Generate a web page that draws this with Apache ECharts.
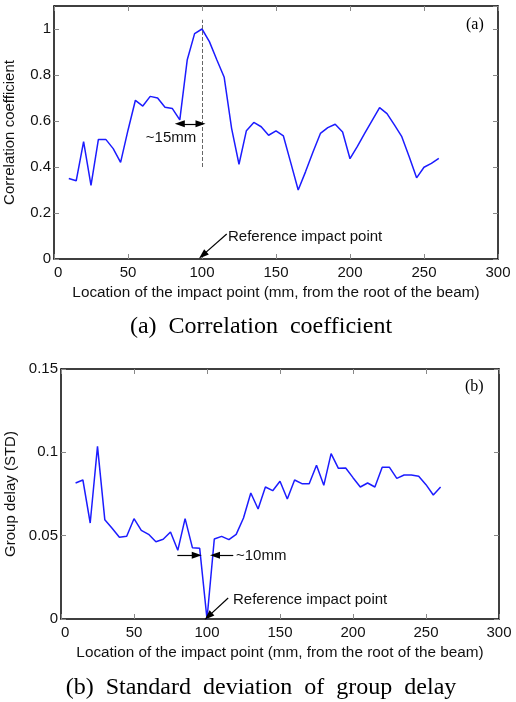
<!DOCTYPE html>
<html>
<head>
<meta charset="utf-8">
<script src="https://cdn.jsdelivr.net/npm/echarts@6/dist/echarts.min.js"></script>
<style>
  html, body { margin: 0; padding: 0; background: #fff; }
  #EchartMain { width: 516px; height: 702px; }
</style>
</head>
<body>
<div id="EchartMain"></div>
<script>
// impact locations, mm (every 5 mm)
const locations = [10, 15, 20, 25, 30, 35, 40, 45, 50, 55, 60, 65, 70, 75, 80, 85, 90, 95, 100,
  105, 110, 115, 120, 125, 130, 135, 140, 145, 150, 155, 160, 165, 170, 175, 180, 185, 190, 195, 200,
  205, 210, 215, 220, 225, 230, 235, 240, 245, 250, 255, 260];
// (a) correlation coefficient
const corrValues = [0.35, 0.34, 0.51, 0.32, 0.52, 0.52, 0.48, 0.42, 0.56, 0.69, 0.665, 0.707, 0.70, 0.66, 0.654, 0.605, 0.865, 0.98, 1.0,
  0.945, 0.866, 0.79, 0.568, 0.412, 0.558, 0.594, 0.575, 0.538, 0.557, 0.535, 0.418, 0.30, 0.38, 0.465, 0.546, 0.571, 0.586, 0.552, 0.436,
  0.49, 0.547, 0.603, 0.658, 0.632, 0.583, 0.532, 0.445, 0.353, 0.399, 0.416, 0.438];
// (b) group delay std
const delayValues = [0.0816, 0.0834, 0.0576, 0.1036, 0.0596, 0.0545, 0.049, 0.0496, 0.0602, 0.0532, 0.0508, 0.0464, 0.0478, 0.0522, 0.0412, 0.0602, 0.0428, 0.0424, 0,
  0.048, 0.0496, 0.0476, 0.0508, 0.0606, 0.0756, 0.066, 0.0792, 0.077, 0.0826, 0.072, 0.0834, 0.0812, 0.0812, 0.0922, 0.0802, 0.0992, 0.0904, 0.0906, 0.0848,
  0.0792, 0.0816, 0.0792, 0.091, 0.091, 0.0844, 0.0864, 0.0864, 0.0856, 0.0806, 0.0744, 0.0792];
const xTicks = [0, 300, 50];
const corrTicks = [0, 1.1, 0.2];
const delayTicks = [0, 0.15, 0.05];

const sans = "Liberation Sans";
const serif = "Liberation Serif";
const xName = "Location of the impact point (mm, from the root of the beam)";

function frameAxis(extra) {
  return Object.assign({
    type: "value",
    axisLine: { show: true, onZero: false, lineStyle: { color: "#000", width: 1.5 } },
    axisTick: { show: true, inside: true, length: 5, lineStyle: { color: "#888" } },
    axisLabel: { show: false },
    splitLine: { show: false },
  }, extra);
}

function bottomAxis(grid) {
  return frameAxis({
    gridIndex: grid, position: "bottom", min: xTicks[0], max: xTicks[1], interval: xTicks[2],
    axisLabel: {
      show: true, margin: 6, fontFamily: sans, fontSize: 15, color: "#111",
      showMinLabel: true, hideOverlap: false, alignMinLabel: "left",
    },
    name: xName, nameLocation: "middle", nameGap: 26,
    nameTextStyle: { fontFamily: sans, fontSize: 15.3, color: "#111" },
  });
}
function topAxis(grid) {
  return frameAxis({ gridIndex: grid, position: "top", min: xTicks[0], max: xTicks[1], interval: xTicks[2] });
}
function leftAxis(grid, ticks, name, gap) {
  return frameAxis({
    gridIndex: grid, position: "left", min: ticks[0], max: ticks[1], interval: ticks[2],
    axisLabel: {
      show: true, margin: 3, fontFamily: sans, fontSize: 15, color: "#111",
      showMinLabel: true, hideOverlap: false, showMaxLabel: grid === 1,
    },
    name: name, nameLocation: "middle", nameGap: gap,
    nameTextStyle: { fontFamily: sans, fontSize: 15, color: "#111" },
  });
}
function rightAxis(grid, ticks) {
  return frameAxis({ gridIndex: grid, position: "right", min: ticks[0], max: ticks[1], interval: ticks[2] });
}

function pairs(ys) {
  return locations.map((x, i) => [x, ys[i]]);
}

const arrow = { symbol: "triangle", symbolSize: [7, 10] };

const option = {
  animation: false,
  grid: [
    { left: 54, top: 6, width: 444, height: 253, outerBoundsMode: "none" },
    { left: 61, top: 369, width: 438, height: 250, outerBoundsMode: "none" },
  ],
  xAxis: [bottomAxis(0), topAxis(0), bottomAxis(1), topAxis(1)],
  yAxis: [
    leftAxis(0, corrTicks, "Correlation coefficient", 37),
    rightAxis(0, corrTicks),
    leftAxis(1, delayTicks, "Group delay (STD)", 42),
    rightAxis(1, delayTicks),
  ],
  series: [
    {
      type: "line",
      xAxisIndex: 0,
      yAxisIndex: 0,
      data: pairs(corrValues),
      showSymbol: false,
      lineStyle: { color: "#1c1cff", width: 1.5 },
      markLine: {
        silent: true,
        symbol: "none",
        label: { show: false },
        lineStyle: { color: "#000", type: "solid", width: 1.2 },
        data: [
          [{ coord: [100, 0.4], lineStyle: { color: "#666", type: "dashed", width: 1 } }, { coord: [100, 1.04] }],
          [Object.assign({ coord: [85, 0.588] }, arrow), Object.assign({ coord: [99, 0.588] }, arrow)],
          [{ coord: [116.7, 0.109] }, Object.assign({ coord: [100.5, 0.017] }, arrow)],
        ],
      },
    },
    {
      type: "line",
      xAxisIndex: 2,
      yAxisIndex: 2,
      data: pairs(delayValues),
      showSymbol: false,
      lineStyle: { color: "#1c1cff", width: 1.5 },
      markLine: {
        silent: true,
        symbol: "none",
        label: { show: false },
        lineStyle: { color: "#000", type: "solid", width: 1.2 },
        data: [
          [{ coord: [79.7, 0.0382] }, Object.assign({ coord: [93, 0.0382] }, arrow)],
          [{ coord: [118, 0.0382] }, Object.assign({ coord: [105.5, 0.0382] }, arrow)],
          [{ coord: [114.5, 0.0126] }, Object.assign({ coord: [100.9, 0.0016] }, arrow)],
        ],
      },
    },
  ],
  graphic: [
    { type: "text", left: 466, top: 17, style: { text: "(a)", font: "16px " + serif, fill: "#000" } },
    { type: "text", x: 171, y: 138, style: { text: "~15mm", font: "15px " + sans, fill: "#111", align: "center", verticalAlign: "middle" } },
    { type: "text", x: 228, y: 237, style: { text: "Reference impact point", font: "15px " + sans, fill: "#111", verticalAlign: "middle" } },
    { type: "text", left: 465, top: 379, style: { text: "(b)", font: "16px " + serif, fill: "#000" } },
    { type: "text", x: 236, y: 556, style: { text: "~10mm", font: "15px " + sans, fill: "#111", verticalAlign: "middle" } },
    { type: "text", x: 233, y: 600, style: { text: "Reference impact point", font: "15px " + sans, fill: "#111", verticalAlign: "middle" } },
    { type: "text", x: 261, y: 327, style: { text: "(a)  Correlation  coefficient", font: "24px " + serif, fill: "#000", align: "center", verticalAlign: "middle" } },
    { type: "text", x: 261, y: 688, style: { text: "(b)  Standard  deviation  of  group  delay", font: "24px " + serif, fill: "#000", align: "center", verticalAlign: "middle" } },
  ],
};

const myChart = echarts.init(document.getElementById("EchartMain"));
myChart.setOption(option);
</script>
</body>
</html>
